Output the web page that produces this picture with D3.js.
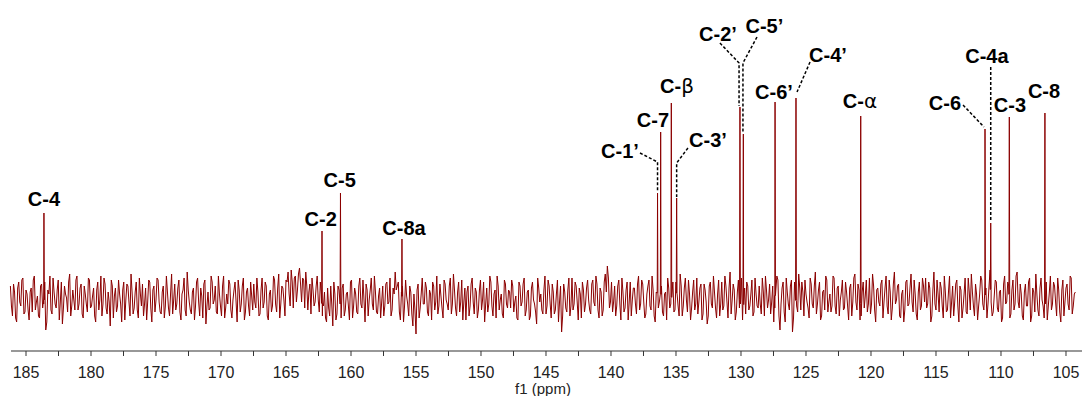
<!DOCTYPE html>
<html>
<head>
<meta charset="utf-8">
<script src="https://cdn.jsdelivr.net/npm/d3@7"></script>
<style>
  body { margin: 0; background: #fff; }
  svg { display: block; }
</style>
</head>
<body>
<div id="spectrum"></div>
<script>
// baseline noise, sampled every noiseStep ppm starting at noiseStart
const noiseStart = 186.2;
const noiseStep = 0.16;
const noise = [
  6,-9,3,-12,8,-4,10,-7,2,-11,5,9,-6,1,-10,7,-3,-16,4,11,
  -8,3,-5,9,-2,-13,6,0,8,-9,4,-6,11,-3,7,-10,2,-7,9,-4,
  5,-12,8,-1,-9,10,-5,3,-14,6,1,-7,9,-3,4,-11,7,-2,12,-8,
  3,-6,10,-4,-9,5,-2,8,-12,6,-1,9,-7,3,-10,11,-5,2,-8,7,
  -3,9,-11,4,-6,13,-2,-8,5,-4,10,-9,1,7,-13,3,-5,8,-1,-7,
  11,-4,6,-10,2,9,-6,-1,8,-12,4,-3,10,-7,5,-9,1,7,-5,3,
  -8,10,-2,6,-11,4,-4,9,-7,12,-3,5,-9,8,2,14,-5,11,4,15,
  -2,9,13,-6,7,10,-4,6,-1,8,-9,3,-12,-5,6,-14,2,-8,4,-10,
  7,-6,3,-11,9,-4,2,-8,10,-5,-1,7,-9,4,-3,11,-7,1,-10,6,
  -4,8,-2,-9,5,13,6,-7,3,-12,9,-3,6,-8,2,-18,7,-5,10,-3,
  5,-9,2,8,-6,11,-4,1,-10,7,-3,6,-8,12,-5,3,-7,9,-2,-11,
  6,-4,10,-8,3,-6,9,-1,-12,5,-3,8,-9,4,11,-6,2,-10,7,-5,
  3,9,-7,1,-11,6,-2,10,-6,4,-9,8,-3,-13,5,2,-8,11,-4,6,
  -10,3,-6,9,-2,-17,7,-5,4,-9,10,-3,6,-11,2,8,-7,5,-1,-8,
  9,-4,7,-10,3,-6,12,16,-5,8,-2,-9,6,-3,10,-7,4,-11,8,-1,
  5,-8,11,-3,7,-10,2,9,-6,4,-12,8,-2,6,-9,3,10,-5,1,-7,
  8,-4,12,-9,5,-1,9,-11,3,-6,10,-2,7,-8,4,-13,6,-3,11,-5,
  2,-9,8,-4,6,-10,13,-1,4,-7,9,-3,-11,5,8,-6,2,-9,10,-4,
  6,-8,3,11,-5,7,-2,-12,4,9,-16,5,-7,10,-3,6,-17,8,-4,12,
  -6,3,9,-2,-10,7,-5,13,-3,8,-9,4,11,-7,2,-4,10,-8,6,-1,
  9,-5,3,-11,7,-2,12,-6,4,-9,8,1,-7,10,-3,6,-12,5,-4,9,
  -2,11,-8,3,-5,13,-1,7,-10,4,-6,9,-3,12,-7,2,-11,8,-4,6,
  10,-3,5,-9,13,-6,2,8,-4,11,-7,3,-10,6,-2,9,-12,4,-5,10,
  -8,3,12,-4,7,-11,2,9,-6,5,-3,14,-9,1,8,-7,4,-10,11,-2,
  6,-8,9,-3,13,-5,2,-11,7,-4,10,-9,3,12,-6,5,-1,-10,8,-4,
  11,-3,6,-9,4,-12,9,-2,7,-6,10,-4,3
];
// noise samples half a step after each of the above
const noiseMid = [
  -4,7,-10,5,-2,9,-8,4,-6,3,-7,11,-2,-9,6,-5,8,-12,2,-6,
  10,-3,4,-11,8,-5,2,-7,12,-4,-1,9,-6,5,-8,6,-3,10,-5,1,
  -9,4,-6,11,-3,7,-8,-2,9,-10,5,-4,2,-12,8,-1,6,-9,3,-5,
  8,-10,2,7,-3,-11,9,-5,4,-7,10,-2,-8,6,-4,3,-9,12,-1,-6,
  5,-7,2,10,-9,4,-6,3,-11,8,-2,5,-10,9,-4,-6,11,-3,6,-8,
  2,-9,11,-5,-3,7,-10,4,-2,9,-7,6,-11,3,-4,8,-6,-2,10,-9,
  4,-5,8,-9,2,-7,11,-3,5,-10,6,-1,9,13,-4,8,10,-2,12,7,
  10,-5,6,3,-8,4,-2,11,-7,2,-4,-10,5,-9,-3,8,-11,6,-2,5,
  -9,2,-4,8,-10,5,-7,6,-3,9,-12,4,-1,10,-6,3,-8,5,-2,-9,
  7,-3,10,-6,2,4,8,-11,6,-4,1,-9,3,-14,-6,4,-10,2,-3,8,
  -7,4,-11,6,-2,-8,7,-5,9,-1,-6,10,-3,4,-9,8,-2,-11,5,3,
  -9,7,-2,5,-10,4,-6,8,-3,-7,11,-4,2,-10,6,-1,-8,9,-3,4,
  -5,6,-2,-10,8,-4,7,-9,3,-11,5,-1,-7,10,-2,-6,4,-8,9,-3,
  7,-8,2,-12,6,-9,3,-7,10,-4,-6,8,-2,5,-10,4,-3,9,-6,7,
  -2,11,-6,5,-9,8,3,10,-2,-7,6,-4,9,-11,3,-5,8,-2,-9,5,
  -3,7,-6,9,-2,-8,6,-4,11,-9,3,-5,10,-7,2,-11,5,-3,8,-6,
  3,-9,6,-4,10,-7,2,-5,9,-3,-8,5,-11,7,-2,-9,8,-5,3,-10,
  9,-3,-6,11,-2,5,-8,7,-11,3,-5,10,-2,-8,6,-4,9,-7,2,-5,
  -3,10,-9,4,-1,-8,6,-5,11,-9,-3,8,-12,3,-6,9,-10,4,-7,5,
  8,-9,2,-5,10,-3,6,-8,4,-11,3,-6,9,-2,-7,11,-4,5,-9,3,
  -6,8,-4,5,-9,10,-2,7,-11,3,-5,9,-3,-8,12,-6,4,-2,7,-10,
  5,-4,9,-11,7,-3,6,-9,2,-12,8,-4,5,-2,9,-8,3,-6,10,-2,
  -5,8,-12,4,-3,9,-7,5,-10,3,-6,11,-2,-9,7,-4,6,-10,2,-7,
  10,-6,3,-9,2,-4,11,-3,8,-10,6,-2,-7,9,-5,3,-12,7,-3,8,
  -10,4,-6,11,-2,7,-9,3,-4,8,-12,5,-7,2,-9,10,-4,6,-11,3,
  -6,8,-2,10,-7,4,-9,5,-3,11,-8,2
];

// peaks
const peakShifts  = [183.62, 162.23, 160.81, 156.08, 136.42, 136.18, 135.36, 134.95, 130.08, 129.82, 127.38, 125.77, 120.79, 111.23, 110.79, 109.36, 106.62];
const peakHeights = [42.5, 33.5, 52.5, 29.5, 52.5, 83, 97.5, 50, 95.5, 82, 98, 100, 91, 84.5, 37.5, 90.5, 92.5];

// assignments: text, ppm of label centre, level of label baseline
const labelText   = ['C-4', 'C-2', 'C-5', 'C-8a', 'C-1’', 'C-7', 'C-β', 'C-3’', 'C-2’', 'C-5’', 'C-6’', 'C-4’', 'C-α', 'C-6', 'C-4a', 'C-3', 'C-8'];
const labelShifts = [183.62, 162.33, 160.87, 155.92, 139.31, 136.77, 134.92, 132.54, 131.77, 128.2, 127.46, 123.31, 120.85, 114.31, 111.08, 109.31, 106.69];
const labelLevels = [46, 36, 55.5, 31.5, 70, 85.5, 102.5, 75.5, 128.5, 132.5, 99.5, 118, 95, 94, 117.5, 93, 100];

// dashed leader lines, [ppm, level] points
const leaders = [
  [[137.77, 72.5], [136.42, 68], [136.42, 53]],
  [[134.08, 75], [134.95, 67.5], [134.95, 50.5]],
  [[131.62, 127.5], [130.15, 117.5], [130.15, 96]],
  [[128.77, 130.5], [129.85, 117.5], [129.85, 82.5]],
  [[124.69, 118], [125.69, 103]],
  [[112.92, 96.5], [111.31, 85.5]],
  [[110.79, 115.5], [110.79, 39]]
];

const xTicks = d3.range(185, 104, -2.5);
const xLabels = d3.range(185, 104, -5);

const width = 1082, height = 396;

const svg = d3.select('#spectrum').append('svg')
  .attr('width', width)
  .attr('height', height);

const x = d3.scaleLinear().domain([186.154, 103.769]).range([11, 1082]);
const y = d3.scaleLinear().domain([0, 100]).range([298, 98]);

// trace: noise + narrow spikes for each peak
const noisePts = noise.map((v, i) => [noiseStart - i * noiseStep, v])
  .concat(noiseMid.map((v, i) => [noiseStart - (i + 0.5) * noiseStep, v]));
function baseAt(ppm) {
  const i = Math.round((noiseStart - ppm) / noiseStep);
  return noise[Math.max(0, Math.min(noise.length - 1, i))] * 0.3;
}
const spikePts = [];
peakShifts.forEach((p, i) => {
  const b = baseAt(p);
  spikePts.push([p + 0.03, b], [p, peakHeights[i]], [p - 0.03, b]);
});
const trace = noisePts.concat(spikePts).sort((a, b) => b[0] - a[0]);

const line = d3.line().x(d => x(d[0])).y(d => y(d[1]));

svg.append('path')
  .datum(trace)
  .attr('d', line)
  .attr('fill', 'none')
  .attr('stroke', '#8b0000')
  .attr('stroke-width', 1)
  .attr('stroke-linejoin', 'miter');

// leaders
svg.append('g').selectAll('path')
  .data(leaders)
  .join('path')
  .attr('d', line)
  .attr('fill', 'none')
  .attr('stroke', '#000')
  .attr('stroke-width', 1.5)
  .attr('stroke-dasharray', '3,2');

// labels
const lab = svg.append('g')
  .attr('font-family', '"Liberation Sans", Arial, Helvetica, sans-serif')
  .attr('font-size', 20)
  .attr('font-weight', 'bold')
  .attr('fill', '#000')
  .attr('text-anchor', 'middle');

labelText.forEach((t, i) => {
  const txt = lab.append('text')
    .attr('x', x(labelShifts[i]))
    .attr('y', y(labelLevels[i]));
  const greek = /[αβ]/.exec(t);
  if (greek) {
    txt.append('tspan').text(t.slice(0, greek.index));
    txt.append('tspan').attr('font-weight', 'normal').attr('font-family', '"DejaVu Sans", sans-serif').text(greek[0]);
  } else {
    txt.text(t);
  }
});

// axis
const axisY = 351;
const ax = svg.append('g').attr('transform', `translate(0,${axisY})`);
ax.append('line')
  .attr('x1', 11).attr('x2', 1082)
  .attr('stroke', '#333').attr('stroke-width', 1.2);
ax.selectAll('.tick')
  .data(xTicks)
  .join('line')
  .attr('class', 'tick')
  .attr('x1', d => x(d)).attr('x2', d => x(d))
  .attr('y1', 0).attr('y2', 5)
  .attr('stroke', '#333').attr('stroke-width', 1);
ax.selectAll('.tlabel')
  .data(xLabels)
  .join('text')
  .attr('class', 'tlabel')
  .attr('x', d => x(d))
  .attr('y', 27)
  .attr('text-anchor', 'middle')
  .attr('font-family', '"Liberation Sans", Arial, Helvetica, sans-serif')
  .attr('font-size', 16)
  .attr('fill', '#222')
  .text(d => d);

svg.append('text')
  .attr('x', 543)
  .attr('y', 394)
  .attr('text-anchor', 'middle')
  .attr('font-family', '"Liberation Sans", Arial, Helvetica, sans-serif')
  .attr('font-size', 15)
  .attr('fill', '#222')
  .text('f1 (ppm)');
</script>
</body>
</html>
